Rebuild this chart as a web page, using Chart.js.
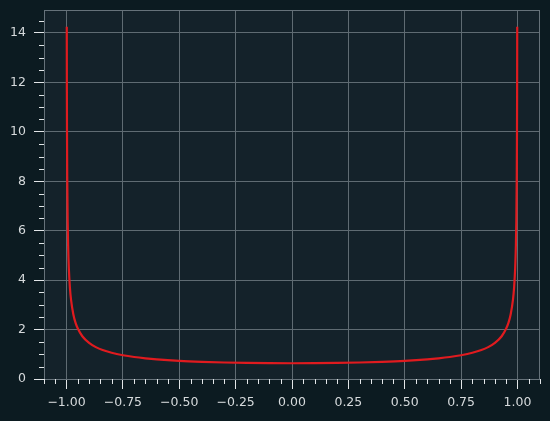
<!DOCTYPE html>
<html>
<head>
<meta charset="utf-8">
<script src="https://cdn.jsdelivr.net/npm/chart.js@4/dist/chart.umd.min.js"></script>
<style>
html,body{margin:0;padding:0;background:#0c1b21;}
#wrap{width:550px;height:421px;}
</style>
</head>
<body>
<div id="wrap"><canvas id="c" width="550" height="421"></canvas></div>
<script>
const xValues = [-0.999,-0.9985,-0.998,-0.997,-0.995,-0.993,-0.99,-0.985,-0.98,-0.97,-0.96,-0.95,-0.93,-0.9,-0.87,-0.84,-0.8,-0.75,-0.7,-0.65,-0.6,-0.5,-0.4,-0.3,-0.2,-0.1,0,
  0.1,0.2,0.3,0.4,0.5,0.6,0.65,0.7,0.75,0.8,0.84,0.87,0.9,0.93,0.95,0.96,0.97,0.98,0.985,0.99,0.993,0.995,0.997,0.998,0.9985,0.999];
const yValues = [14.25,11.6,10.07,8.22,6.37,5.39,4.51,3.69,3.2,2.62,2.27,2.04,1.73,1.46,1.29,1.17,1.06,0.962,0.891,0.838,0.796,0.735,0.695,0.667,0.65,0.64,0.637,
  0.64,0.65,0.667,0.695,0.735,0.796,0.838,0.891,0.962,1.06,1.17,1.29,1.46,1.73,2.04,2.27,2.62,3.2,3.69,4.51,5.39,6.37,8.22,10.07,11.6,14.25];
const xTicks = [-1.0,-0.75,-0.5,-0.25,0,0.25,0.5,0.75,1.0];
const yTicks = [0,2,4,6,8,10,12,14];

const points = xValues.map((x,i)=>({x:x,y:yValues[i]}));
const fmtX = v => { const s = Math.abs(v).toFixed(2); return (v < -1e-9 ? '\u2212' : '') + s; };

const frame = {
  id:'frame',
  beforeDraw(chart){
    const {ctx, chartArea:a} = chart;
    ctx.save();
    ctx.fillStyle = '#0c1b21';
    ctx.fillRect(0,0,chart.width,chart.height);
    ctx.fillStyle = '#14222a';
    ctx.fillRect(a.left,a.top,a.right-a.left,a.bottom-a.top);
    ctx.restore();
  },
  afterDraw(chart){
    const {ctx, chartArea:a, scales} = chart;
    ctx.save();
    ctx.strokeStyle = '#66727a';
    ctx.lineWidth = 1;
    ctx.strokeRect(a.left+0.5,a.top+0.5,a.right-a.left-1,a.bottom-a.top);
    ctx.strokeStyle = '#e2e6e8';
    ctx.beginPath();
    for(let k=-22;k<=22;k++){
      if(k%5===0) continue;
      const px = Math.round(scales.x.getPixelForValue(k*0.05))+0.5;
      ctx.moveTo(px,a.bottom); ctx.lineTo(px,a.bottom+5);
    }
    for(let k=0;k<=29;k++){
      if(k%4===0) continue;
      const py = Math.round(scales.y.getPixelForValue(k*0.5))+0.5;
      ctx.moveTo(a.left-5,py); ctx.lineTo(a.left,py);
    }
    ctx.stroke();
    ctx.restore();
  }
};

new Chart(document.getElementById('c'),{
  type:'line',
  data:{datasets:[{data:points,borderColor:'#e01b1f',borderWidth:2.2,pointRadius:0,fill:false,cubicInterpolationMode:'monotone'}]},
  options:{
    responsive:false,animation:false,
    layout:{padding:{top:10,right:10,left:0,bottom:0}},
    plugins:{legend:{display:false},tooltip:{enabled:false}},
    scales:{
      x:{type:'linear',min:-1.1,max:1.1,
        afterBuildTicks:s=>{s.ticks = xTicks.map(v=>({value:v}));},
        afterFit:s=>{s.height=42;s.paddingLeft=0;s.paddingRight=0;},
        ticks:{callback:v=>fmtX(v),color:'#d6dadc',font:{family:'DejaVu Sans',size:12.5},padding:6,maxRotation:0,autoSkip:false},
        grid:{color:'#5f6b72',lineWidth:1,tickLength:10,tickColor:'#e2e6e8'},
        border:{color:'#66727a'}
      },
      y:{type:'linear',min:0,max:14.93,
        afterBuildTicks:s=>{s.ticks = yTicks.map(v=>({value:v}));},
        afterFit:s=>{s.width=44;s.paddingTop=0;s.paddingBottom=0;},
        ticks:{callback:v=>String(v),color:'#d6dadc',font:{family:'DejaVu Sans',size:12.5},padding:8,autoSkip:false},
        grid:{color:'#5f6b72',lineWidth:1,tickLength:10,tickColor:'#e2e6e8'},
        border:{color:'#66727a'}
      }
    }
  },
  plugins:[frame]
});
</script>
</body>
</html>
